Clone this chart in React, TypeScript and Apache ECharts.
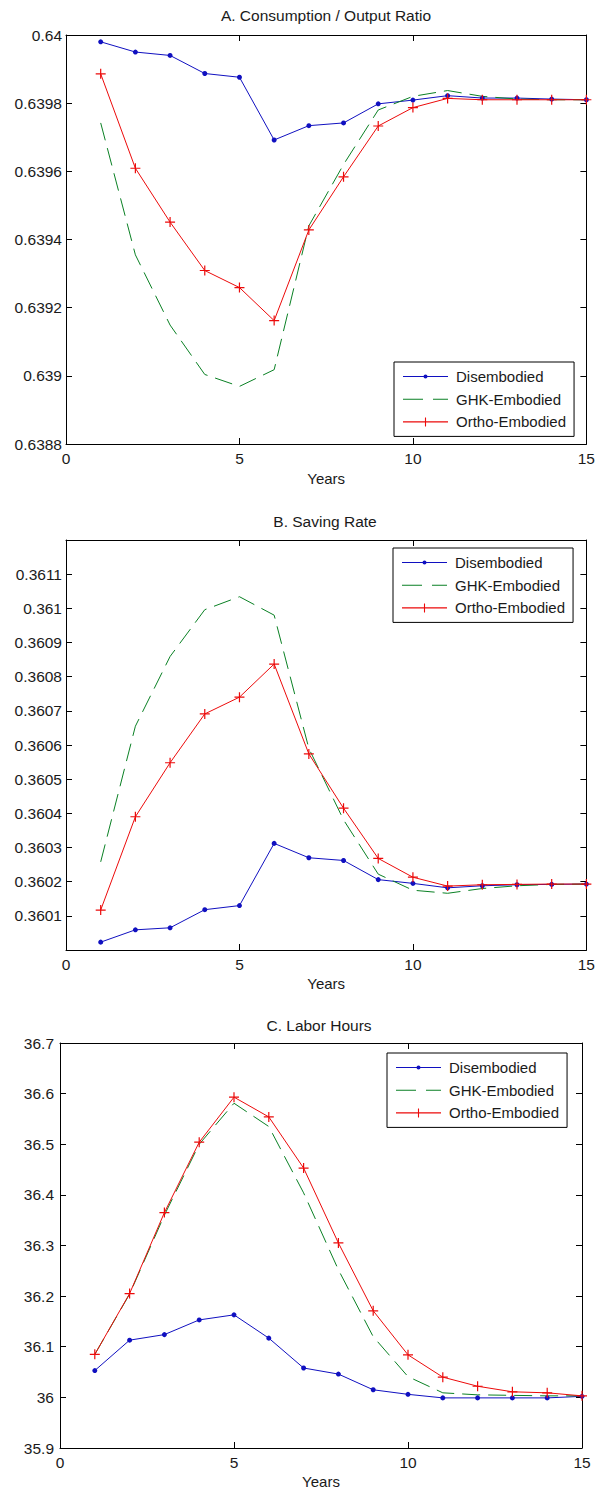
import React, { useEffect, useRef } from 'react';
import * as echarts from 'echarts';

// ---------- data ----------
const YEARS = [1, 2, 3, 4, 5, 6, 7, 8, 9, 10, 11, 12, 13, 14, 15];
const SERIES_NAMES = ['Disembodied', 'GHK-Embodied', 'Ortho-Embodied'];
const TITLES = ['A. Consumption / Output Ratio', 'B. Saving Rate', 'C. Labor Hours'];
const X_LABEL = 'Years';

const A_DIS = [0.63998, 0.63995, 0.63994, 0.639887, 0.639876, 0.639692, 0.639734, 0.639742, 0.639798, 0.639809, 0.639822, 0.639815, 0.639815, 0.639812, 0.63981];
const A_GHK = [0.639742, 0.639355, 0.639149, 0.639004, 0.638969, 0.639018, 0.63944, 0.63962, 0.63978, 0.63982, 0.639837, 0.63982, 0.639812, 0.63981, 0.63981];
const A_ORT = [0.639886, 0.639609, 0.639451, 0.639309, 0.639259, 0.639162, 0.639428, 0.639584, 0.639733, 0.639787, 0.639814, 0.63981, 0.63981, 0.63981, 0.63981];

const B_DIS = [0.360023, 0.360059, 0.360065, 0.360118, 0.36013, 0.360312, 0.36027, 0.360262, 0.360206, 0.360195, 0.360182, 0.360188, 0.360191, 0.360192, 0.360193];
const B_GHK = [0.360258, 0.360655, 0.360859, 0.360996, 0.361034, 0.36098, 0.36059, 0.360381, 0.360222, 0.360175, 0.360166, 0.36018, 0.360188, 0.360192, 0.360193];
const B_ORT = [0.360117, 0.36039, 0.360548, 0.360691, 0.36074, 0.360837, 0.360574, 0.360415, 0.360268, 0.360213, 0.360187, 0.360191, 0.360192, 0.360193, 0.360193];

const C_DIS = [36.053, 36.113, 36.124, 36.153, 36.163, 36.117, 36.058, 36.046, 36.015, 36.006, 35.999, 35.999, 35.999, 35.999, 36.002];
const C_GHK = [36.085, 36.204, 36.36, 36.5, 36.581, 36.535, 36.404, 36.252, 36.12, 36.041, 36.009, 36.005, 36.004, 36.003, 36.003];
const C_ORT = [36.085, 36.205, 36.365, 36.504, 36.593, 36.554, 36.453, 36.305, 36.171, 36.084, 36.04, 36.022, 36.011, 36.009, 36.003];

// axis ranges
const X_MIN = 0;
const X_MAX = 15;
const X_STEP = 5;
const A_Y = [0.6388, 0.64, 0.0002];
const B_Y = [0.36, 0.3612, 0.0001];
const C_Y = [35.9, 36.7, 0.1];

// ---------- styling ----------
const FONT = 'Liberation Sans, Arial, Helvetica, sans-serif';
const TXT = '#1a1a1a';
const BLUE = '#1010c0';
const GREEN = '#0a8024';
const RED = '#ec0a0a';
const PLUS = 'path://M4.4,0H5.6V4.4H10V5.6H5.6V10H4.4V5.6H0V4.4H4.4Z';

const ICONS = [
  'path://M0,1.5H45V2.5H0Z M20.5,2A2,2,0,1,1,24.5,2A2,2,0,1,1,20.5,2Z',
  'path://M0,0H20V1.1H0Z M30,0H45V1.1H30Z',
  'path://M0,3.95H45V5.05H0Z M21.95,0H23.05V9H21.95Z',
];

const fmt = (v: number) => String(parseFloat(Number(v).toFixed(6)));

export default function App() {
  const ref = useRef<HTMLDivElement>(null);

  useEffect(() => {
    if (!ref.current) return;
    const chart = echarts.init(ref.current, undefined, { renderer: 'svg' });

    const grids = [
      { left: 66, top: 35, width: 522, height: 409 },
      { left: 66, top: 540, width: 522, height: 410 },
      { left: 60, top: 1043, width: 522, height: 405 },
    ];
    const yRanges = [A_Y, B_Y, C_Y];
    const data = [
      [A_DIS, A_GHK, A_ORT],
      [B_DIS, B_GHK, B_ORT],
      [C_DIS, C_GHK, C_ORT],
    ];
    const nameGaps = [27, 26, 26];
    const yMargins = [4, 4, 6];
    const hideEnds = [false, true, false];
    const titlePos = [
      { left: 326, top: 7.5 },
      { left: 325, top: 513.5 },
      { left: 319, top: 1017 },
    ];
    const legendPos = [
      { left: 394, top: 362 },
      { left: 393, top: 548 },
      { left: 387, top: 1053 },
    ];

    const axisLine = { show: true, onZero: false, lineStyle: { color: '#000', width: 1 } };
    const axisTick = { show: true, inside: true, length: 6, lineStyle: { color: '#000', width: 1 } };

    const xAxis: any[] = [];
    const yAxis: any[] = [];
    const series: any[] = [];

    grids.forEach((g, i) => {
      xAxis.push({
        type: 'value', gridIndex: i, position: 'bottom',
        min: X_MIN, max: X_MAX, interval: X_STEP,
        axisLine, axisTick, splitLine: { show: false },
        axisLabel: { color: TXT, fontSize: 15.5, fontFamily: FONT, margin: 6, formatter: fmt },
        name: X_LABEL, nameLocation: 'middle', nameGap: nameGaps[i],
        nameTextStyle: { color: TXT, fontSize: 15, fontFamily: FONT },
      });
      xAxis.push({
        type: 'value', gridIndex: i, position: 'top',
        min: X_MIN, max: X_MAX, interval: X_STEP,
        axisLine, axisTick, splitLine: { show: false }, axisLabel: { show: false },
      });
      const [mn, mx, st] = yRanges[i];
      yAxis.push({
        type: 'value', gridIndex: i, position: 'left',
        min: mn, max: mx, interval: st,
        axisLine, axisTick, splitLine: { show: false },
        axisLabel: {
          color: TXT, fontSize: 15.5, fontFamily: FONT, margin: yMargins[i], formatter: fmt,
          showMinLabel: !hideEnds[i], showMaxLabel: !hideEnds[i],
        },
      });
      yAxis.push({
        type: 'value', gridIndex: i, position: 'right',
        min: mn, max: mx, interval: st,
        axisLine, axisTick, splitLine: { show: false }, axisLabel: { show: false },
      });

      const [dis, ghk, ort] = data[i];
      series.push({
        type: 'line', name: SERIES_NAMES[0], xAxisIndex: 2 * i, yAxisIndex: 2 * i,
        data: YEARS.map((x, k) => [x, dis[k]]),
        symbol: 'circle', symbolSize: 5, showSymbol: true,
        lineStyle: { color: BLUE, width: 1 }, itemStyle: { color: BLUE, borderWidth: 0 },
        emphasis: { disabled: true }, silent: true,
      });
      series.push({
        type: 'line', name: SERIES_NAMES[1], xAxisIndex: 2 * i, yAxisIndex: 2 * i,
        data: YEARS.map((x, k) => [x, ghk[k]]),
        symbol: 'none',
        lineStyle: { color: GREEN, width: 1, type: [18, 8] }, itemStyle: { color: GREEN },
        emphasis: { disabled: true }, silent: true,
      });
      series.push({
        type: 'line', name: SERIES_NAMES[2], xAxisIndex: 2 * i, yAxisIndex: 2 * i,
        data: YEARS.map((x, k) => [x, ort[k]]),
        symbol: PLUS, symbolSize: 10, showSymbol: true,
        lineStyle: { color: RED, width: 1 }, itemStyle: { color: RED, borderWidth: 0 },
        emphasis: { disabled: true }, silent: true,
      });
    });

    const title = TITLES.map((t, i) => ({
      text: t, left: titlePos[i].left, top: titlePos[i].top, textAlign: 'center', padding: 0,
      textStyle: { fontSize: 15.5, fontWeight: 'normal', color: TXT, fontFamily: FONT },
    }));

    const legend = legendPos.map((p) => ({
      orient: 'vertical', left: p.left, top: p.top,
      padding: [7, 8, 7, 9], itemWidth: 45, itemHeight: 9, itemGap: 7.7,
      backgroundColor: '#fff', borderColor: '#000', borderWidth: 1, borderRadius: 0,
      itemStyle: { borderWidth: 0 },
      textStyle: { fontSize: 15, color: TXT, fontFamily: FONT, lineHeight: 15, padding: [0, 0, 0, 3] },
      selectedMode: false,
      data: SERIES_NAMES.map((n, k) => ({ name: n, icon: ICONS[k] })),
    }));

    chart.setOption({
      animation: false,
      backgroundColor: '#fff',
      title,
      legend,
      grid: grids,
      xAxis,
      yAxis,
      series,
    });

    return () => chart.dispose();
  }, []);

  return (
    <div
      ref={ref}
      style={{ position: 'absolute', left: 0, top: 0, width: 598, height: 1495, background: '#fff' }}
    />
  );
}
